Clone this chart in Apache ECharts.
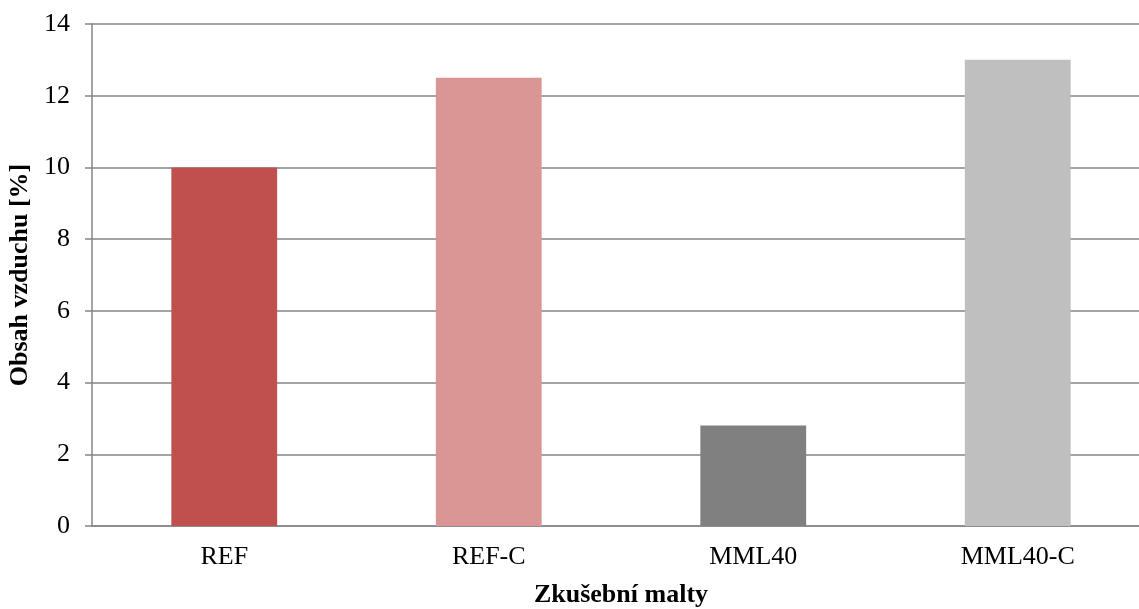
<!DOCTYPE html>
<html>
<head>
<meta charset="utf-8">
<script src="https://cdn.jsdelivr.net/npm/echarts@6/dist/echarts.min.js"></script>
<style>
html,body{margin:0;padding:0;background:#fff;}
#chart{width:1139px;height:609px;}
</style>
</head>
<body>
<div id="chart"></div>
<script>
const categories = ['REF', 'REF-C', 'MML40', 'MML40-C'];
const values = [10, 12.5, 2.8, 13];
const barColors = ['#C0504D', '#D99694', '#808080', '#BFBFBF'];
const yTitle = 'Obsah vzduchu [%]';
const xTitle = 'Zkušební malty';

const font = '"Liberation Serif", "Times New Roman", serif';
const chart = echarts.init(document.getElementById('chart'), null, {renderer: 'canvas'});
chart.setOption({
  animation: false,
  backgroundColor: '#ffffff',
  grid: {left: 92, width: 1058, top: 24, height: 502, containLabel: false, outerBoundsMode: 'none'},
  xAxis: {
    type: 'category',
    data: categories,
    name: xTitle,
    nameLocation: 'middle',
    nameGap: 56,
    nameTextStyle: {fontFamily: font, fontSize: 26, fontWeight: 'bold', color: '#000'},
    axisLine: {show: true, lineStyle: {color: '#868686', width: 1.5}},
    axisTick: {show: false},
    axisLabel: {fontFamily: font, fontSize: 26, color: '#000', margin: 18}
  },
  yAxis: {
    type: 'value',
    min: 0, max: 14, interval: 2,
    name: yTitle,
    nameLocation: 'middle',
    nameGap: 58,
    nameRotate: 90,
    nameTextStyle: {fontFamily: font, fontSize: 26, fontWeight: 'bold', color: '#000'},
    axisLine: {show: true, lineStyle: {color: '#868686', width: 1.5}},
    axisTick: {show: true, length: 7, lineStyle: {color: '#868686', width: 1.5}},
    axisLabel: {fontFamily: font, fontSize: 26, color: '#000', margin: 22},
    splitLine: {show: true, lineStyle: {color: '#868686', width: 1.5}}
  },
  series: [{
    type: 'bar',
    barWidth: '40%',
    data: values.map((v, i) => ({value: v, itemStyle: {color: barColors[i]}}))
  }]
});
</script>
</body>
</html>
